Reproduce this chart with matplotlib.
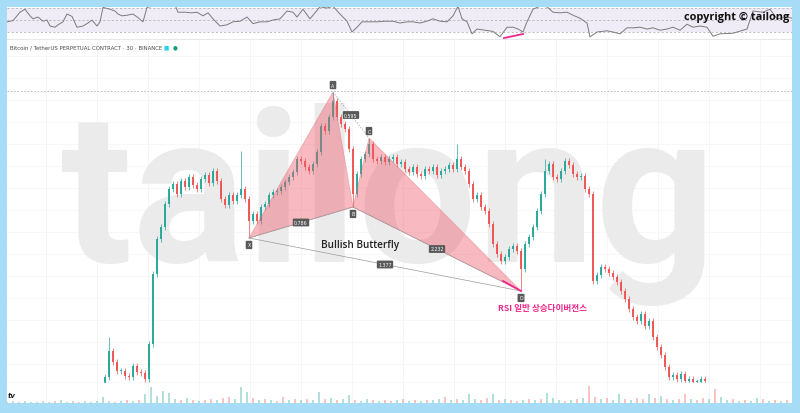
# -*- coding: utf-8 -*-
import numpy as np
import matplotlib
matplotlib.use('Agg')
import matplotlib.pyplot as plt
from matplotlib.patches import Polygon

### price candles (30m bars), closes
first_bar = 25
first_open = 15
closes = [22, 48, 37, 28, 28, 23, 22, 33, 27, 26,
          20, 55, 125, 160, 172, 195, 210, 215, 205, 218,
          212, 222, 214, 210, 220, 224, 216, 228, 218, 200,
          194, 204, 198, 204, 210, 200, 178, 185, 178, 192,
          195, 204, 207, 208, 212, 217, 222, 227, 240, 238,
          232, 228, 235, 247, 273, 268, 282, 298, 282, 275,
          270, 250, 205, 225, 240, 245, 255, 240, 238, 242,
          237, 240, 242, 235, 237, 230, 227, 232, 225, 223,
          230, 228, 232, 224, 228, 230, 234, 230, 240, 232,
          228, 215, 200, 204, 192, 188, 175, 155, 145, 138,
          142, 150, 153, 148, 130, 155, 162, 172, 188, 205,
          228, 235, 222, 220, 228, 238, 234, 225, 222, 223,
          210, 205, 118, 124, 132, 130, 126, 122, 117, 108,
          100, 90, 82, 78, 85, 73, 78, 62, 52, 44,
          32, 22, 24, 20, 25, 18, 20, 17, 17, 20, 18]
# notable wicks (candle index -> price)
high_marks = {1: 62, 34: 248, 57: 307, 66: 261, 88: 255, 110: 240}
low_marks = {36: 161, 62: 192, 104: 108}

### harmonic pattern
pattern_names = ['X', 'A', 'B', 'C', 'D']
pattern_bars = [61, 82, 87, 91, 129]
pattern_prices = [161, 307, 192, 261, 108]
ratio_legs = [('X', 'B'), ('A', 'C'), ('B', 'D'), ('X', 'D')]
ratio_labels = ['0.786', '0.595', '2.232', '1.377']
top_level = 308

### RSI
rsi_bars = [0.5, 2, 3.75, 5, 6.25, 7, 8.25, 9.5, 10.5, 11.25,
            12.5, 13.25, 14.5, 15.5, 16.75, 18, 19.5, 20.75, 21.75, 23,
            23.75, 24.5, 25.75, 27.5, 28.25, 29.25, 30.5, 32, 33.25, 34.5,
            35.5, 37, 38.25, 39.5, 41.25, 42.5, 43.25, 45, 46.75, 48,
            49.5, 50.75, 52, 53.75, 55.5, 57, 58.75, 60.5, 62, 63.75,
            65.5, 67, 68.75, 70.5, 72, 73, 74.5, 76.25, 77.5, 78.75,
            80.5, 82, 83.75, 85.5, 86.75, 88, 89.25, 91.25, 93, 95,
            97, 98.75, 100.5, 102, 103.75, 105.5, 107, 108.75, 110.5, 112,
            113.25, 114.25, 115.5, 116.75, 118, 120, 122, 123.75, 125.5, 127,
            128.25, 129.5, 130.5, 132, 133.75, 135.5, 137, 138.75, 140.5, 142,
            143.75, 145.5, 146.25, 148, 150.5, 152, 153.75, 155.5, 157, 158.75,
            160.5, 162, 163.75, 165.5, 167, 168.75, 170.5, 172, 173.75, 175.5,
            177, 178.75, 182, 185.5, 187, 189.5, 191.25, 193, 195.5, 196.75]
rsi_vals = [47, 49, 63, 68, 57, 52, 55, 48, 50, 40,
            38, 42, 47, 60, 56, 38, 40, 45, 50, 40,
            47, 71, 69, 65, 60, 57, 58, 60, 54, 47,
            71, 73, 76, 77, 77, 75, 63, 63, 62, 63,
            57, 62, 52, 40, 42, 47, 48, 55, 44, 47,
            47, 50, 52, 65, 63, 55, 68, 52, 62, 72,
            70, 73, 60, 48, 30, 38, 47, 47, 47, 48,
            48, 45, 47, 47, 45, 48, 52, 48, 47, 57,
            73, 52, 47, 27, 35, 33, 31, 22, 38, 38,
            35, 30, 47, 68, 73, 72, 63, 62, 63, 58,
            53, 45, 22, 30, 32, 30, 27, 37, 37, 38,
            35, 37, 33, 35, 38, 33, 43, 38, 40, 38,
            23, 27, 28, 35, 65, 63, 68, 52, 55, 53]
rsi_div_bars = [124.75, 129.5]
rsi_div_vals = [20, 26.7]
price_div_bars = [124.5, 129]
price_div_prices = [118, 108]

### volume (one bar every 1.5 bars)
volume = [1, 2, 1, 2, 1, 1, 2, 1, 2, 3, 1, 2, 1, 2, 1, 2,
          6, 2, 1, 2, 3, 2, 3, 9, 16, 7, 12, 10, 4, 3, 5, 3, 2,
          3, 4, 3, 5, 6, 4, 16, 11, 5, 3, 4, 3, 2, 6, 3, 4, 3,
          4, 3, 11, 4, 5, 3, 4, 8, 3, 2, 4, 3, 2,
          3, 2, 3, 4, 2, 3, 2, 3, 3, 4, 6, 3, 4, 3, 9, 4, 3, 5, 9,
          3, 4, 3, 2, 3, 4, 3, 4, 10, 5, 3, 2, 3, 4, 5, 17,
          6, 4, 5, 3, 9, 4, 3, 5, 4, 9, 5, 7, 4, 3, 4, 9,
          4, 3, 5, 4, 14, 6, 3, 4, 2, 3, 2, 5, 4, 2, 3, 2, 3]
volume_side = ("rgrggrgrrg" "grrgrgggrg" "rgrggggggr" "grgrrgrrgg"
               "grgrgrrgrg" "rggrgrggrg" "grgrrgrgrg" "rggrgrgggr"
               "rgrgrrgrgr" "gggrgrgrrg" "rggrgrrgrg" "rgrrgrrgrg"
               "grgrggrgrgr")

UP, DOWN = '#26a69a', '#ef5350'
W, H = 800, 414
XMIN, XMAX = 0.5, 196.75


def box(x0, y0, x1, y1):
    return [x0 / W, (H - y1) / H, (x1 - x0) / W, (y1 - y0) / H]


def clean(ax):
    for s in ax.spines.values():
        s.set_visible(False)
    ax.tick_params(left=False, bottom=False, labelleft=False, labelbottom=False)
    ax.set_xlim(XMIN, XMAX)


def vgrid(ax):
    for xg in np.arange(10.125, XMAX, 12.75):
        ax.axvline(xg, color='#f3f4f6', lw=0.6, zorder=0)


fig = plt.figure(figsize=(W / 100, H / 100), dpi=100, facecolor='#a6dcf6')

### RSI pane
ax_r = fig.add_axes(box(7, 8, 792, 41))
clean(ax_r)
ax_r.set_ylim(16.7, 71.7)
ax_r.axhspan(30, 70, color='#efebf7', lw=0, zorder=0)
for lev in (30, 50, 70):
    ax_r.axhline(lev, color='#a5a5a5', lw=0.5, ls=(0, (3, 3)), zorder=1)
ax_r.plot(rsi_bars, rsi_vals, color='#7b7b7b', lw=0.7, zorder=2)
ax_r.plot(rsi_div_bars, rsi_div_vals, color='#f0288c', lw=1.3, zorder=3)
ax_r.axhline(16.7, color='#e3e4e8', lw=1.2)

### main price pane
ax = fig.add_axes(box(7, 41, 792, 384))
clean(ax)
ax.set_ylim(16, 359)
vgrid(ax)
for yg in np.arange(35, 359, 22):
    ax.axhline(yg, color='#f5f6f7', lw=0.6, zorder=0)

ax.text(0.486, 0.355, 'tailong', transform=ax.transAxes, ha='center',
        va='baseline', fontsize=152, family='Roboto', weight='bold',
        color='#ebebeb', zorder=0.5)

ax.axhline(top_level, color='#b5b5b5', lw=0.6, ls=(0, (2, 2)), zorder=1)

bars = first_bar + np.arange(len(closes))
opens = [first_open] + closes[:-1]
for i, (t, o, c) in enumerate(zip(bars, opens, closes)):
    col = UP if c >= o else DOWN
    hi = high_marks.get(i, max(o, c) + 3)
    lo = low_marks.get(i, min(o, c) - 3)
    ax.vlines(t, lo, hi, color=col, lw=0.55, alpha=0.9, zorder=2)
    ax.bar(t, max(abs(c - o), 1.2), bottom=min(o, c), width=0.5,
           color=col, lw=0, alpha=0.95, zorder=2)

pts = {n: (b, p) for n, b, p in zip(pattern_names, pattern_bars, pattern_prices)}
for tri in (('X', 'A', 'B'), ('B', 'C', 'D')):
    ax.add_patch(Polygon([pts[k] for k in tri], closed=True, fc='#ef5a6a',
                         alpha=0.42, ec='#e06a74', lw=0.6, zorder=3))
for (a, b) in ratio_legs:
    ls = '-' if (a, b) != ('A', 'C') else (0, (2, 2))
    ax.plot([pts[a][0], pts[b][0]], [pts[a][1], pts[b][1]],
            color='#9a9a9a', lw=0.5, ls=ls, zorder=3)
for (a, b), lab in zip(ratio_legs, ratio_labels):
    mx = (pts[a][0] + pts[b][0]) / 2
    my = (pts[a][1] + pts[b][1]) / 2
    ax.text(mx, my, lab, ha='center', va='center', fontsize=3.4, color='white',
            zorder=5, bbox=dict(boxstyle='round,pad=0.3,rounding_size=0.2',
                                fc='#595959', ec='none'))
offsets = {'X': -5, 'A': 5, 'B': -5, 'C': 5, 'D': -5}
for n in pattern_names:
    ax.annotate(n, pts[n], xytext=(0, offsets[n]), textcoords='offset points',
                ha='center', va='center', fontsize=3.4, color='white', zorder=5,
                bbox=dict(boxstyle='round,pad=0.35,rounding_size=0.2',
                          fc='#595959', ec='none'))

ax.text(88.75, 154, 'Bullish Butterfly', ha='center', va='center',
        fontsize=7.2, color='#222222', family='Open Sans', weight='semibold',
        zorder=5)
ax.plot(price_div_bars, price_div_prices, color='#f0288c', lw=1.3, zorder=4)
ax.text(134.5, 91, 'RSI 일반 상승다이버전스', ha='center', va='center',
        fontsize=6.2, color='#f0288c', weight='bold',
        family=['Noto Sans CJK KR', 'DejaVu Sans'], zorder=5)

ax.axhline(16, color='#e3e4e8', lw=1.0)

### volume pane
ax_v = fig.add_axes(box(7, 384, 792, 404))
clean(ax_v)
ax_v.set_ylim(0, 20)
vgrid(ax_v)
vbars = 0.5 + 1.5 * np.arange(len(volume))
vcols = [UP if s == 'g' else DOWN for s in volume_side]
ax_v.bar(vbars, volume, width=0.45, color=vcols, alpha=0.35, lw=0)

### texts
fig.text(10 / W, 1 - 48 / H, 'Bitcoin / TetherUS PERPETUAL CONTRACT · 30 · BINANCE',
         fontsize=3.9, color='#4a4a4a', va='center')
fig.text(163 / W, 1 - 48 / H, '■', fontsize=4, color='#22d3ee', va='center')
fig.text(173 / W, 1 - 48 / H, '●', fontsize=4, color='#0f9f7a', va='center')
fig.text(789 / W, 1 - 17 / H, 'copyright © tailong', ha='right', va='center',
         fontsize=7.9, weight='bold', family='Open Sans', color='#111111')
fig.text(8 / W, 1 - 396 / H, 'tv', fontsize=5, weight='bold', style='italic',
         color='#131722', va='center')

fig.savefig('out.png', dpi=100, facecolor=fig.get_facecolor())
